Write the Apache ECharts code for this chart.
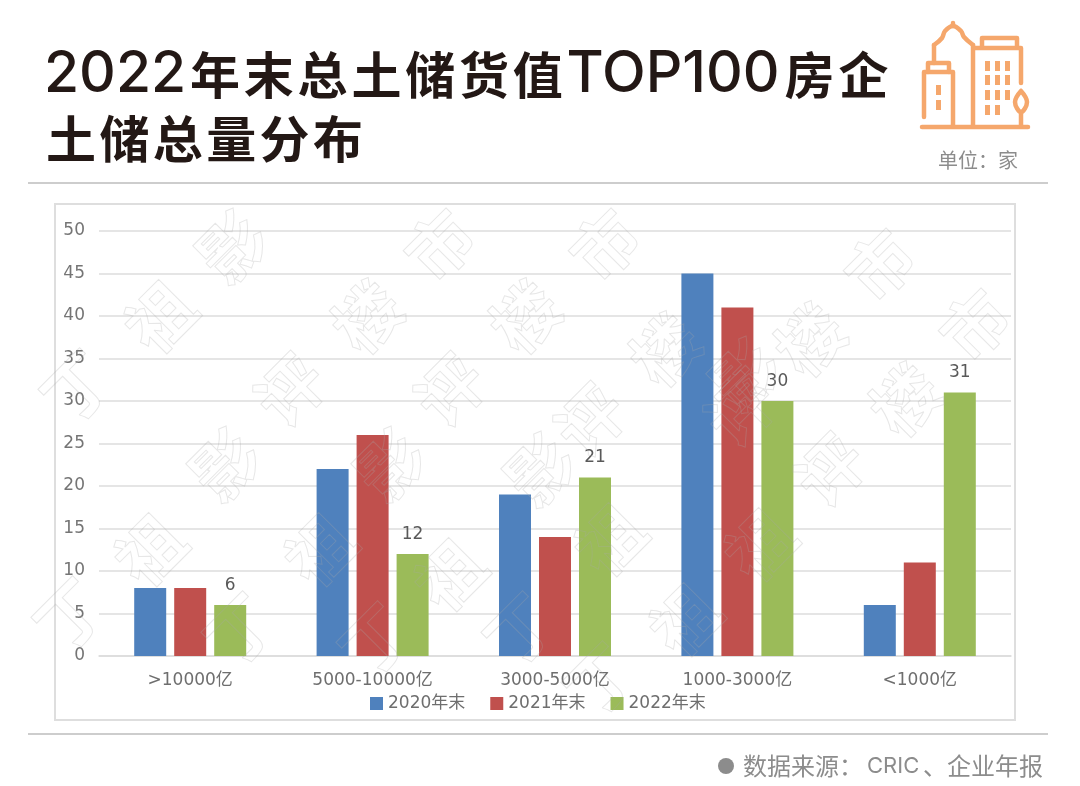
<!DOCTYPE html>
<html>
<head>
<meta charset="utf-8">
<style>
  html, body { margin: 0; padding: 0; background: #fff; }
  #chart { width: 1080px; height: 786px; }
</style>
<script src="https://cdn.jsdelivr.net/npm/echarts@6/dist/echarts.min.js"></script>
</head>
<body>
<div id="chart"></div>
<script>
const categories = [">10000亿", "5000-10000亿", "3000-5000亿", "1000-3000亿", "<1000亿"];
const seriesNames = ["2020年末", "2021年末", "2022年末"];
const values2020 = [8, 22, 19, 45, 6];
const values2021 = [8, 26, 14, 41, 11];
const values2022 = [6, 12, 21, 30, 31];
const barColors = ["#4f81bd", "#c0504d", "#9bbb59"];

const cjk = '"Noto Sans CJK SC", sans-serif';
const wide = '"DejaVu Sans", "Noto Sans CJK SC", sans-serif';
const iconColor = "#f5a76c";
const titleColor = "#231815";

// 水印
const marks = [
  ["丁", 77, 387], ["祖", 160, 317], ["影", 232, 247], ["评", 290, 390], ["楼", 367, 317], ["市", 440, 245],
  ["评", 450, 390], ["楼", 525, 317], ["市", 605, 245], ["评", 590, 420], ["楼", 665, 350], ["评", 740, 410],
  ["楼", 810, 340], ["市", 880, 265], ["评", 830, 470], ["楼", 905, 400], ["市", 975, 325],
  ["影", 225, 465], ["影", 390, 465], ["影", 540, 470], ["影", 745, 375],
  ["祖", 150, 550], ["祖", 320, 550], ["祖", 450, 575], ["祖", 610, 540], ["祖", 685, 620], ["祖", 760, 545],
  ["丁", 70, 615], ["丁", 240, 630], ["丁", 375, 640], ["丁", 520, 630], ["丁", 600, 680],
];

const graphic = [];

// 每个汉字单独占一格，拉开字距
const spaced = (str, token) => Array.from(str).map((c) => `{${token}|${c}}`).join("");

// 标题
const titleCjk = { fontFamily: '"Noto Sans CJK SC"', fontWeight: "bold", fontSize: 50, fill: titleColor, color: titleColor };
const titleLatin = { fontFamily: "Inter", fontWeight: 500, fontSize: 57, fill: titleColor, color: titleColor };
graphic.push({
  type: "text", silent: true, x: 44, y: 75,
  style: {
    text: "{a|2022}" + spaced("年末总土储货值", "b") + "{c|TOP100}" + spaced("房企", "b"),
    verticalAlign: "middle",
    rich: {
      a: Object.assign({}, titleLatin, { width: 146 }),
      b: Object.assign({}, titleCjk, { width: 53.8 }),
      c: Object.assign({}, titleLatin, { width: 218 }),
    },
  },
});
graphic.push({
  type: "text", silent: true, x: 46, y: 139,
  style: {
    text: spaced("土储总量分布", "b"),
    verticalAlign: "middle",
    rich: { b: Object.assign({}, titleCjk, { width: 53.4 }) },
  },
});
graphic.push({
  type: "text", silent: true, x: 938, y: 160,
  style: { text: "单位：家", fill: "#8c8c8c", font: `20px ${cjk}`, verticalAlign: "middle" },
});

// 分隔线
[183, 734].forEach((y) => {
  graphic.push({ type: "line", silent: true, shape: { x1: 28, y1: y, x2: 1048, y2: y }, style: { stroke: "#bdbdbd", lineWidth: 1.5 } });
});
// 图表外框
graphic.push({ type: "rect", silent: true, z: -1, shape: { x: 55, y: 204, width: 960, height: 516 }, style: { fill: "#fff", stroke: "#dedede", lineWidth: 2 } });

// 来源
graphic.push({ type: "circle", silent: true, shape: { cx: 726, cy: 766, r: 8 }, style: { fill: "#8c8c8c" } });
const sourceCjk = { fontFamily: '"Noto Sans CJK SC"', fontSize: 24, fill: "#8c8c8c", color: "#8c8c8c" };
graphic.push({
  type: "text", silent: true, x: 743, y: 766,
  style: {
    text: "{a|数据来源：}{b|CRIC}{c|、企业年报}",
    verticalAlign: "middle",
    rich: {
      a: Object.assign({}, sourceCjk, { width: 124 }),
      b: { fontFamily: "Inter", fontSize: 22, fill: "#8c8c8c", color: "#8c8c8c", width: 56 },
      c: sourceCjk,
    },
  },
});

// 图标
const iconLines = [
  [[922, 127], [1028, 127]],
  [[924, 117], [924, 72], [953, 72], [953, 126]],
  [[928, 72], [928, 63], [949, 63], [949, 72]],
  [[934, 63], [934, 45]],
  [[973, 45], [973, 126]],
  [[953, 23], [953, 26]],
  [[975, 48], [1021, 48], [1021, 83]],
  [[982, 46], [982, 38], [1017, 38], [1017, 46]],
  [[1021, 112], [1021, 126]],
];
const iconCurves = [
  [[934, 45], [942, 38], [945, 31], [953, 26], [961, 31], [964, 37], [973, 45]],
  [[1021, 91], [1015, 102], [1021, 112], [1027, 102], [1021, 91]],
];
const iconStyle = { fill: "none", stroke: iconColor, lineWidth: 4.5, lineCap: "round", lineJoin: "round" };
iconLines.forEach((points) => {
  graphic.push({ type: "polyline", silent: true, shape: { points }, style: iconStyle });
});
iconCurves.forEach((points) => {
  graphic.push({ type: "polyline", silent: true, shape: { points, smooth: 0.4 }, style: iconStyle });
});
const addWindow = (x, y, w, h) => {
  graphic.push({ type: "rect", silent: true, shape: { x, y, width: w, height: h }, style: { fill: iconColor } });
};
addWindow(936, 85, 5, 10);
addWindow(936, 100, 5, 10);
[61, 75, 90, 105].forEach((y, row) => {
  [985, 995, 1005].forEach((x, col) => {
    if (row === 3 && col === 2) return;
    addWindow(x, y, 5, 10);
  });
});

// 水印放最上层
marks.forEach(([ch, x, y]) => {
  graphic.push({
    type: "text", silent: true, z: 50, x, y, rotation: Math.PI / 4,
    style: { text: ch, font: `bold 66px ${cjk}`, fill: "rgba(255,255,255,0)", stroke: "rgba(170,170,170,0.28)", lineWidth: 1, align: "center", verticalAlign: "middle" },
  });
});

const chart = echarts.init(document.getElementById("chart"));
chart.setOption({
  animation: false,
  backgroundColor: "#fff",
  grid: { left: 99, right: 69, top: 231, bottom: 130 },
  legend: {
    data: seriesNames, left: 365, top: 690, itemWidth: 13, itemHeight: 13, itemGap: 25,
    icon: "rect",
    textStyle: { color: "#6e6e6e", fontSize: 17, fontFamily: wide },
  },
  xAxis: {
    type: "category", data: categories,
    axisLine: { lineStyle: { color: "#dcdcdc", width: 1.5 } },
    axisTick: { show: false },
    axisLabel: { color: "#6e6e6e", fontSize: 17, fontFamily: wide, margin: 16 },
  },
  yAxis: {
    type: "value", min: 0, max: 50, interval: 5,
    axisLine: { show: false }, axisTick: { show: false },
    splitLine: { lineStyle: { color: "#dcdcdc", width: 1.5 } },
    axisLabel: { color: "#757575", fontSize: 17, fontFamily: wide, margin: 14, padding: [3, 0, 0, 0] },
  },
  series: [values2020, values2021, values2022].map((data, i) => ({
    name: seriesNames[i], type: "bar", data, barWidth: 32, barGap: "25%",
    itemStyle: { color: barColors[i] },
    label: { show: i === 2, position: "top", distance: 11, color: "#595959", fontSize: 17, fontFamily: wide },
  })),
  graphic,
});
</script>
</body>
</html>
